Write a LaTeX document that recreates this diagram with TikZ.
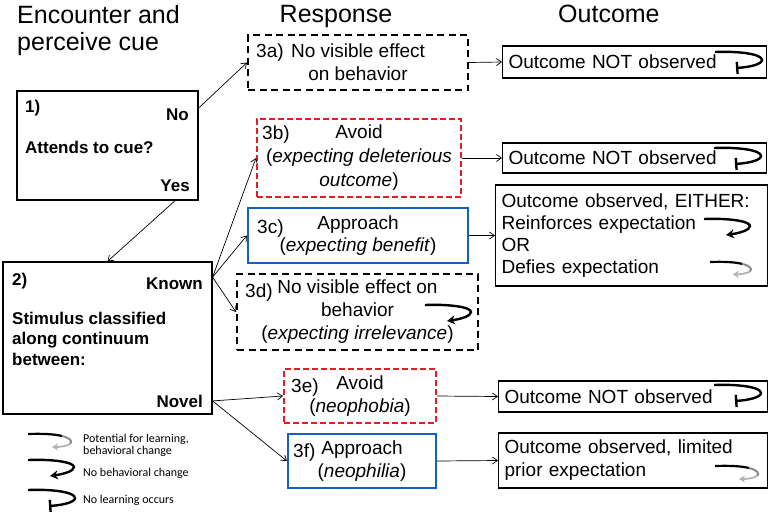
\documentclass[tikz,border=0pt]{standalone}
\usepackage{fontspec}
\setmainfont{Liberation Sans}
\newfontfamily\legendfont{Carlito}
\usetikzlibrary{arrows.meta}
\definecolor{boxred}{RGB}{228,28,36}
\definecolor{boxblue}{RGB}{18,98,196}
\newcommand\mainsize{\fontsize{19}{23}\selectfont}
\tikzset{
  box/.style={draw, line width=1.2pt, inner sep=0pt, align=center},
  blackdash/.style={box, line width=2pt, dash pattern=on 7pt off 4.5pt},
  reddash/.style={box, draw=boxred, line width=2pt, dash pattern=on 6pt off 3pt},
  bluebox/.style={box, draw=boxblue, line width=2.2pt},
  outbox/.style={box, anchor=west, align=left, inner xsep=6pt},
  tag/.style={inner sep=0pt, anchor=base west},
  qtext/.style={inner sep=0pt, font=\bfseries\fontsize{17}{20.5}\selectfont},
  title/.style={inner sep=0pt, align=left, font=\fontsize{25}{27}\selectfont},
  legtext/.style={inner sep=0pt, anchor=west, align=left, font=\legendfont\fontsize{12}{12}\selectfont},
  conn/.style={-{Straight Barb[length=5pt,width=7pt]}, line width=0.7pt},
  nolearn/.pic={
    \draw[line width=2.4pt, -{Bar[width=12pt,line width=2.4pt]}] (0,0) .. controls (24,-1) and (47,2) .. (47,8) .. controls (47,12) and (36,15) .. (21,16);
  },
  nochange/.pic={
    \draw[line width=2.4pt, -{Stealth[length=8pt,width=9pt]}] (0,0) .. controls (24,-1) and (46,2) .. (46,7) .. controls (46,11) and (36,14) .. (22,16);
  },
  potential/.pic={
    \draw[line width=2.2pt] (0,0) .. controls (14,-0.5) and (26,0) .. (34,2);
    \draw[line width=2pt, black!45] (34,2) .. controls (42,4) and (45,7) .. (42,10);
    \draw[line width=1.8pt, black!30, -{Stealth[length=6pt,width=7pt]}] (42,10) .. controls (39,12) and (32,13) .. (24,13);
  }
}
\begin{document}
\begin{tikzpicture}[x=1pt, y=-1pt, font=\mainsize]
\useasboundingbox (0,0) rectangle (768,520);

% column titles
\node[title, anchor=north west] (enc) at (17,5) {Encounter and\\perceive cue};
\node[title, anchor=north] (resp) at (336,5) {Response};
\node[title, anchor=north west] (outc) at (558,5) {Outcome};

% step 1
\node[box, minimum width=181, minimum height=109] (q1) at (107.5,145.5) {};
\node[qtext, anchor=base west] (n1) at (25,112) {1)};
\node[qtext, anchor=base east] (no1) at (189,120) {No};
\node[qtext, anchor=base west] (att) at (25,153) {Attends to cue?};
\node[qtext, anchor=base east] (yes1) at (190,191) {Yes};

% step 2
\node[box, minimum width=209, minimum height=152] (q2) at (107.5,338) {};
\node[qtext, anchor=base west] (n2) at (12,285) {2)};
\node[qtext, anchor=base east] (known) at (203,289) {Known};
\node[qtext, anchor=north west, align=left] (stim) at (12,311.5) {Stimulus classified\\along continuum\\between:};
\node[qtext, anchor=base east] (novel) at (203,407) {Novel};

% responses
\node[blackdash, minimum width=220, minimum height=55] (a3) at (358,62.5) {No visible effect\\on behavior};
\node[tag] at (256,57) {3a)};
\node[reddash, minimum width=204, minimum height=78, font=\fontsize{19}{24}\selectfont] (b3) at (359,158) {Avoid\\(\textit{expecting deleterious}\\\textit{outcome})};
\node[tag] at (262,139) {3b)};
\node[bluebox, minimum width=220, minimum height=55, font=\fontsize{19}{21.5}\selectfont] (c3) at (358,235.5) {Approach\\(\textit{expecting benefit})};
\node[tag] at (257,233) {3c)};
\node[blackdash, minimum width=241, minimum height=76] (d3) at (357.5,312) {No visible effect on\\behavior\\(\textit{expecting irrelevance})};
\node[tag] at (245,297) {3d)};
\node[reddash, minimum width=152, minimum height=54] (e3) at (360,396) {Avoid\\(\textit{neophobia})};
\node[tag] at (291,392) {3e)};
\node[bluebox, minimum width=148, minimum height=54] (f3) at (362,461) {Approach\\(\textit{neophilia})};
\node[tag] at (293,457) {3f)};

% outcomes
\node[outbox, minimum height=32, text width=252] (o1) at (502,62) {Outcome NOT observed};
\node[outbox, minimum height=30, text width=252] (o2) at (502,158) {Outcome NOT observed};
\node[outbox, minimum height=101, text width=260, font=\fontsize{19}{22}\selectfont] (o3) at (495,235.5) {Outcome observed, EITHER:\\Reinforces expectation\\OR\\Defies expectation};
\node[outbox, minimum height=31, text width=257] (o4) at (498,396.5) {Outcome NOT observed};
\node[outbox, minimum height=55, text width=257] (o5) at (498,460.5) {Outcome observed, limited\\prior expectation};

% loop symbols
\pic at (715,52) {nolearn};
\pic at (714,148) {nolearn};
\pic at (714,385) {nolearn};
\pic at (704,219) {nochange};
\pic[scale=0.95] at (710,262) {potential};
\pic at (715,466) {potential};
\pic at (425,305) {nochange};

% connectors
\draw[conn] (q1.east |- no1.north) -- (a3.west);
\draw[conn] (yes1 |- q1.south) -- (q2.north);
\draw[conn] (q2.east |- known.north) -- (b3.west);
\draw[conn] (q2.east |- known.north) -- (c3.west);
\draw[conn] (q2.east |- known.north) -- (d3.west);
\draw[conn] (q2.east |- novel) -- (e3.west);
\draw[conn] (q2.east |- novel) -- (f3.west);
\draw[conn] (a3.east) -- (o1.west);
\draw[conn] (b3.east) -- (o2.west);
\draw[conn] (c3.east) -- (o3.west |- c3.east);
\draw[conn] (e3.east) -- (o4.west);
\draw[conn] (f3.east) -- (o5.west);

% legend
\pic at (28,434) {potential};
\pic at (28,460) {nochange};
\pic at (28,490) {nolearn};
\node[legtext] (lg1) at (83,445) {Potential for learning,\\behavioral change};
\node[legtext] (lg2) at (83,473) {No behavioral change};
\node[legtext] (lg3) at (83,500) {No learning occurs};
\end{tikzpicture}
\end{document}
